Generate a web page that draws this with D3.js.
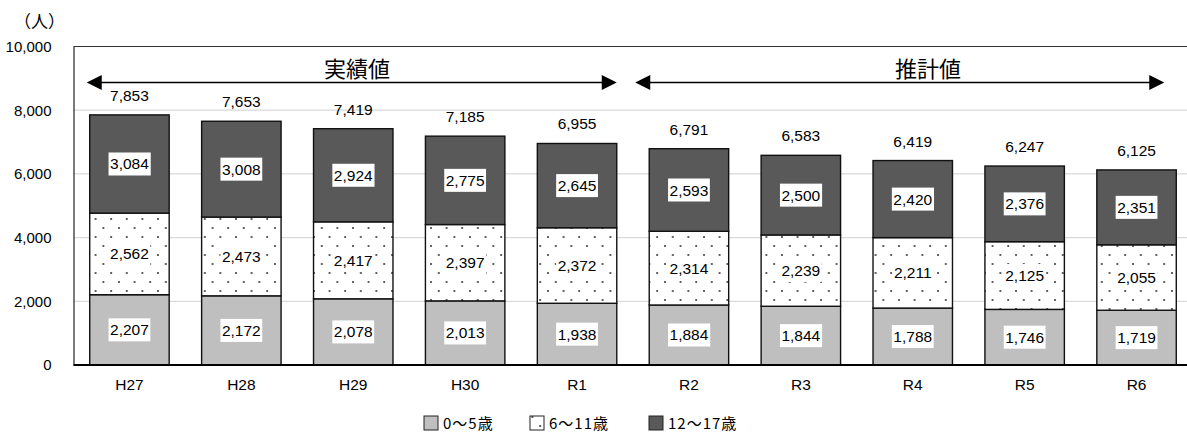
<!DOCTYPE html>
<html><head><meta charset="utf-8">
<script src="https://cdn.jsdelivr.net/npm/d3@7/dist/d3.min.js"></script>
<style>
html,body{margin:0;padding:0;background:#fff;}
svg{display:block;}
text{font-family:"Liberation Sans","Noto Sans CJK JP",sans-serif;fill:#000;}
.jp{font-family:"Noto Sans CJK JP","Liberation Sans",sans-serif;}
</style></head>
<body>
<svg id="chart" width="1187" height="435"></svg>
<script>
const categories = ["H27","H28","H29","H30","R1","R2","R3","R4","R5","R6"];
const age0to5   = [2207,2172,2078,2013,1938,1884,1844,1788,1746,1719];
const age6to11  = [2562,2473,2417,2397,2372,2314,2239,2211,2125,2055];
const age12to17 = [3084,3008,2924,2775,2645,2593,2500,2420,2376,2351];
const totals    = [7853,7653,7419,7185,6955,6791,6583,6419,6247,6125];
const seriesNames = ["0〜5歳","6〜11歳","12〜17歳"];
const yTicks = [0,2000,4000,6000,8000,10000];
const periodLabels = ["実績値","推計値"];
const unitLabel = "（人）";

(function(){
const svg = d3.select("#chart");
const pLeft = 73.5, pRight = 1192.5, pTop = 46.5, pBottom = 365;

const x = d3.scaleBand().domain(categories).range([pLeft, pRight]).paddingInner(0.29).paddingOuter(0.145);
const y = d3.scaleLinear().domain([0,10000]).range([pBottom, pTop]);

const defs = svg.append("defs");
const pat = defs.append("pattern").attr("id","dots").attr("patternUnits","userSpaceOnUse")
  .attr("width",15.6).attr("height",18);
pat.append("rect").attr("width",15.6).attr("height",18).attr("fill","#fff");
pat.append("circle").attr("cx",2).attr("cy",3).attr("r",1).attr("fill","#333");
pat.append("circle").attr("cx",9.8).attr("cy",12).attr("r",1).attr("fill","#333");

// gridlines
svg.append("g").selectAll("line").data(yTicks.filter(d=>d>0 && d<10000)).join("line")
  .attr("x1",pLeft).attr("x2",pRight).attr("y1",d=>y(d)).attr("y2",d=>y(d))
  .attr("stroke","#d9d9d9").attr("stroke-width",1.3);
// top border
svg.append("line").attr("x1",pLeft).attr("x2",pRight).attr("y1",y(10000)).attr("y2",y(10000))
  .attr("stroke","#333").attr("stroke-width",1.2);

// y axis
const yAxis = svg.append("g").attr("transform",`translate(${pLeft},0)`)
  .call(d3.axisLeft(y).tickValues(yTicks).tickFormat(d3.format(",")).tickSize(0).tickPadding(22));
yAxis.select(".domain").attr("stroke","#333").attr("stroke-width",1.3);
yAxis.selectAll("text").attr("font-size","15px").attr("font-family","Liberation Sans, sans-serif").attr("fill","#000");

// stacked data
const rows = categories.map((c,i)=>({cat:c, s0:age0to5[i], s1:age6to11[i], s2:age12to17[i], total:totals[i]}));
const stack = d3.stack().keys(["s0","s1","s2"])(rows);
const fills = ["#bfbfbf","url(#dots)","#595959"];

const gBars = svg.append("g");
stack.forEach((layer,li)=>{
  gBars.append("g").selectAll("rect").data(layer).join("rect")
    .attr("x",d=>x(d.data.cat)).attr("width",x.bandwidth())
    .attr("y",d=>y(d[1])).attr("height",d=>y(d[0])-y(d[1]))
    .attr("fill",fills[li]).attr("stroke","#111").attr("stroke-width",1.4);
});

// segment labels
const fmt = d3.format(",");
const gLab = svg.append("g");
stack.forEach((layer,li)=>{
  layer.forEach(d=>{
    const cx = x(d.data.cat)+x.bandwidth()/2;
    const cy = (y(d[0])+y(d[1]))/2;
    const g = gLab.append("g");
    const t = g.append("text").attr("x",cx).attr("y",cy).attr("text-anchor","middle")
      .attr("dominant-baseline","central").attr("font-size","15.5px").text(fmt(d[1]-d[0]));
    const bb = t.node().getBBox();
    g.insert("rect","text").attr("x",bb.x-1.5).attr("y",cy-11.5).attr("width",bb.width+3).attr("height",23).attr("fill","#fff");
  });
});

// totals
svg.append("g").selectAll("text").data(rows).join("text")
  .attr("x",d=>x(d.cat)+x.bandwidth()/2).attr("y",d=>y(d.total)-14)
  .attr("text-anchor","middle").attr("font-size","15.5px").text(d=>fmt(d.total));

// bottom axis
svg.append("line").attr("x1",pLeft).attr("x2",pRight).attr("y1",pBottom).attr("y2",pBottom)
  .attr("stroke","#000").attr("stroke-width",2.2);
const xAxis = svg.append("g").attr("transform",`translate(0,${pBottom})`)
  .call(d3.axisBottom(x).tickSize(0).tickPadding(14));
xAxis.select(".domain").remove();
xAxis.selectAll("text").attr("font-size","15.5px").attr("font-family","Liberation Sans, sans-serif").attr("fill","#000");

// arrows
const arrowY = 82.5;
function arrow(x1,x2){
  const g = svg.append("g");
  g.append("line").attr("x1",x1+14).attr("x2",x2-14).attr("y1",arrowY).attr("y2",arrowY)
    .attr("stroke","#000").attr("stroke-width",1.6);
  g.append("path").attr("d",`M${x1},${arrowY} L${x1+15},${arrowY-7.5} L${x1+15},${arrowY+7.5} Z`).attr("fill","#000");
  g.append("path").attr("d",`M${x2},${arrowY} L${x2-15},${arrowY-7.5} L${x2-15},${arrowY+7.5} Z`).attr("fill","#000");
}
arrow(x("H27")-3, x("R1")+x.bandwidth());
arrow(x("R2")-14, x("R6")+x.bandwidth()-12);
svg.append("text").attr("class","jp").attr("x",357).attr("y",77).attr("text-anchor","middle")
  .attr("font-size","22px").text(periodLabels[0]);
svg.append("text").attr("class","jp").attr("x",928).attr("y",77).attr("text-anchor","middle")
  .attr("font-size","22px").text(periodLabels[1]);

// unit
svg.append("text").attr("class","jp").attr("x",14).attr("y",28).attr("font-size","17px").text(unitLabel);

// legend
const legX = [424,530,649];
const legFills = ["#bfbfbf","url(#dots)","#595959"];
const leg = svg.append("g");
seriesNames.forEach((n,i)=>{
  leg.append("rect").attr("x",legX[i]).attr("y",416).attr("width",14).attr("height",14)
    .attr("fill",legFills[i]).attr("stroke","#222").attr("stroke-width",1);
  leg.append("text").attr("class","jp").attr("x",legX[i]+19).attr("y",429).attr("font-size","15px")
    .attr("letter-spacing","1px").text(n);
});
})();
</script>
</body></html>
